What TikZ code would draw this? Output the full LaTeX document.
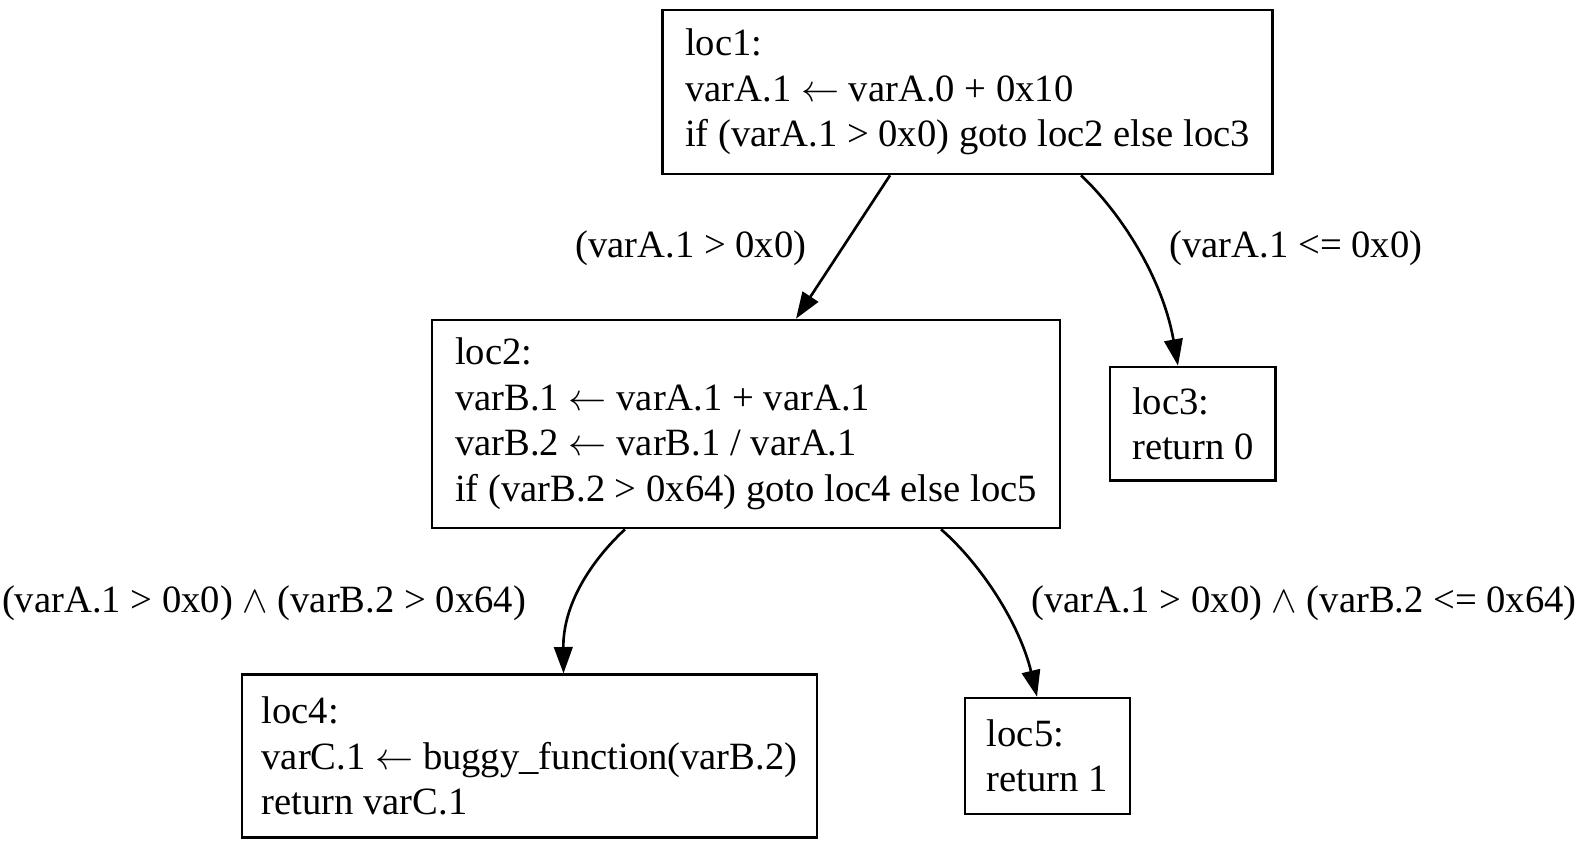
\documentclass[tikz,border=0pt]{standalone}
\usepackage{fontspec}
\setmainfont{Liberation Serif}
\usetikzlibrary{arrows.meta}

\begin{document}
\begin{tikzpicture}[x=0.378pt, y=-0.378pt,
    font=\fontsize{14.6}{17.2}\selectfont,
    block/.style={draw, line width=1pt, rectangle, align=left, inner sep=0pt},
    edge/.style={line width=1pt, -{Triangle[length=10pt, width=7pt]}}]
      \useasboundingbox (0,0) rectangle (1586,849);
      % blocks
      \node[block, minimum width=230.6pt, minimum height=62pt] (loc1) at (967.5,92)
        {loc1:\\varA.1 $\leftarrow$ varA.0 + 0x10\\if (varA.1 > 0x0) goto loc2 else loc3};
      \node[block, minimum width=237.4pt, minimum height=78.6pt] (loc2) at (746,424)
        {loc2:\\varB.1 $\leftarrow$ varA.1 + varA.1\\varB.2 $\leftarrow$ varB.1 / varA.1\\if (varB.2 > 0x64) goto loc4 else loc5};
      \node[block, minimum width=62.6pt, minimum height=42.9pt] (loc3) at (1192.75,423.75)
        {loc3:\\return 0};
      \node[block, minimum width=217.4pt, minimum height=61.4pt] (loc4) at (529.5,756)
        {loc4:\\varC.1 $\leftarrow$ buggy\_function(varB.2)\\return varC.1};
      \node[block, minimum width=62.4pt, minimum height=43.8pt] (loc5) at (1047.5,756)
        {loc5:\\return 1};
      % edge labels
      \node (l12) at (691,248) {(varA.1 > 0x0)};
      \node (l13) at (1296,248) {(varA.1 <= 0x0)};
      \node (l24) at (264,603) {(varA.1 > 0x0) $\wedge$ (varB.2 > 0x64)};
      \node (l25) at (1304,603) {(varA.1 > 0x0) $\wedge$ (varB.2 <= 0x64)};
      % edges
      \draw[edge] (loc1.south -| 890,0) -- (loc2.north -| 796,0);
      \draw[edge] (loc1.south -| 1081,0) .. controls (1118,210) and (1162,275) .. (loc3.north -| 1178,0);
      \draw[edge] (loc2.south -| 625,0) .. controls (590,562) and (563,605) .. (loc4.north -| 563.5,0);
      \draw[edge] (loc2.south -| 941,0) .. controls (982,565) and (1020,625) .. (loc5.north -| 1037,0);
\end{tikzpicture}
\end{document}
